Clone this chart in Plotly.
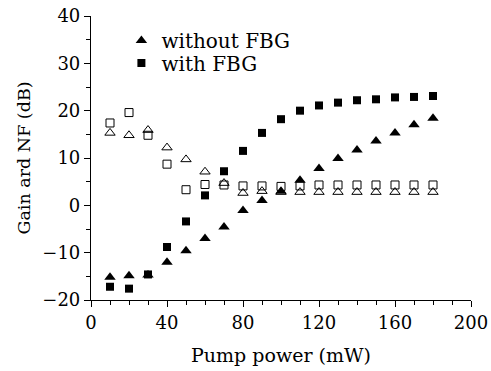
import plotly.graph_objects as go

pump = [10, 20, 30, 40, 50, 60, 70, 80, 90, 100, 110, 120, 130, 140, 150, 160, 170, 180]
gain_without = [-15.2, -14.9, -14.7, -12.0, -9.6, -7.0, -4.6, -1.1, 1.0, 3.0, 5.3, 7.8, 9.9, 11.7, 13.6, 15.3, 17.0, 18.4]
gain_with = [-17.2, -17.6, -14.6, -8.8, -3.4, 2.1, 7.2, 11.5, 15.3, 18.2, 20.0, 21.1, 21.7, 22.2, 22.4, 22.8, 22.9, 23.1]
nf_without = [15.3, 14.8, 15.9, 12.2, 9.7, 7.1, 4.7, 2.6, 3.0, 2.8, 2.8, 2.8, 2.8, 2.8, 2.8, 2.8, 2.8, 2.8]
nf_with = [17.4, 19.6, 14.8, 8.7, 3.3, 4.4, 4.3, 4.1, 4.1, 4.0, 4.1, 4.3, 4.3, 4.3, 4.3, 4.3, 4.3, 4.3]

FONT = "DejaVu Serif"

fig = go.Figure()
fig.add_trace(go.Scatter(x=pump, y=nf_without, mode="markers", showlegend=False,
                         marker=dict(symbol="triangle-up-open", size=9, color="black", line=dict(width=1))))
fig.add_trace(go.Scatter(x=pump, y=nf_with, mode="markers", showlegend=False,
                         marker=dict(symbol="square-open", size=8, color="black", line=dict(width=1))))
fig.add_trace(go.Scatter(x=pump, y=gain_without, mode="markers", name="without FBG", legend="legend",
                         marker=dict(symbol="triangle-up", size=10, color="black")))
fig.add_trace(go.Scatter(x=pump, y=gain_with, mode="markers", name="with FBG", legend="legend2",
                         marker=dict(symbol="square", size=8, color="black")))

axis_common = dict(showline=True, linecolor="black", linewidth=1.2, ticks="outside",
                   ticklen=6, tickwidth=1.2, tickcolor="black", showgrid=False, zeroline=False,
                   tickfont=dict(family=FONT, size=18, color="black"), mirror=False,
                   automargin=False)

fig.update_xaxes(range=[0, 200], tick0=0, dtick=40,
                 minor=dict(ticks="outside", dtick=10, ticklen=4, tickwidth=1.2, tickcolor="black"),
                 title=dict(text="Pump power (mW)", font=dict(family=FONT, size=19, color="black"), standoff=16),
                 **axis_common)
fig.update_yaxes(range=[-20, 40], tick0=-20, dtick=10,
                 minor=dict(ticks="outside", dtick=5, ticklen=4, tickwidth=1.2, tickcolor="black"),
                 title=dict(text="Gain ard NF (dB)", font=dict(family=FONT, size=17.5, color="black"), standoff=7),
                 **axis_common)

leg_common = dict(xanchor="left", yanchor="top", bgcolor="rgba(0,0,0,0)",
                  font=dict(family=FONT, size=20, color="black"), itemwidth=30)
fig.update_layout(
    width=491, height=371,
    margin=dict(l=91, r=20, t=16, b=71),
    paper_bgcolor="white", plot_bgcolor="white",
    legend=dict(x=0.08, y=0.982, **leg_common),
    legend2=dict(x=0.08, y=0.903, **leg_common),
)

fig.write_html("out.html")
